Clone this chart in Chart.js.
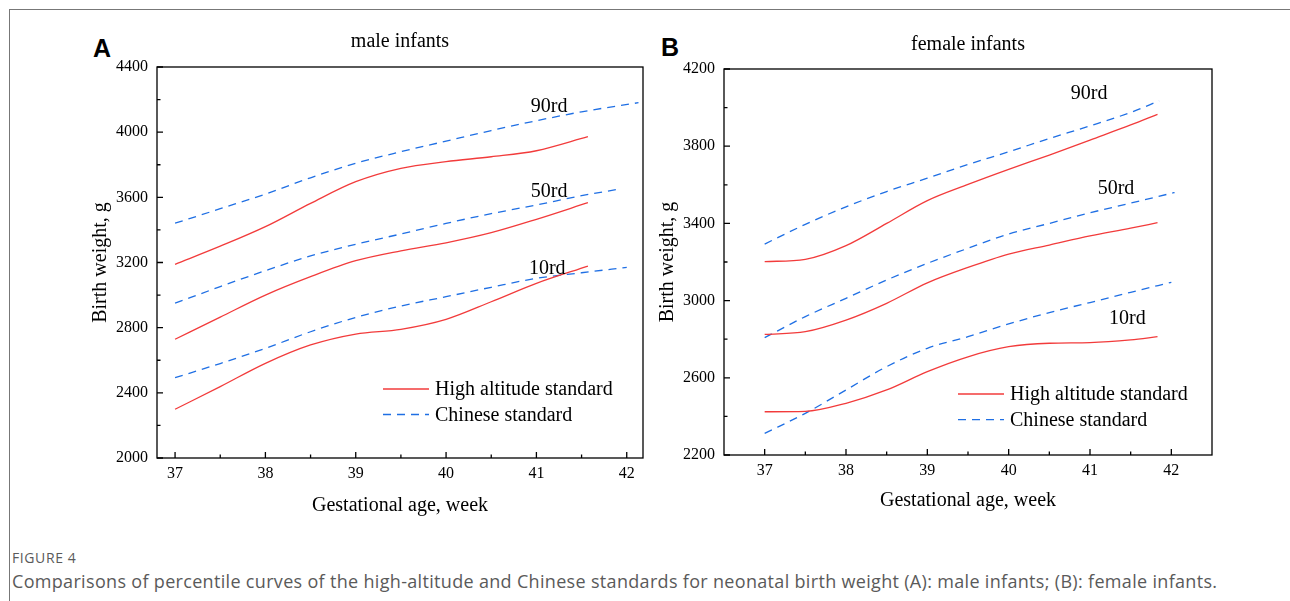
<!DOCTYPE html>
<html>
<head>
<meta charset="utf-8">
<title>Birth weight percentile curves</title>
<script src="https://cdn.jsdelivr.net/npm/chart.js@4.4.1/dist/chart.umd.min.js"></script>
<style>
  html, body { margin: 0; padding: 0; background: #fff; }
  body { width: 1290px; height: 601px; position: relative; overflow: hidden; }
  #border { position: absolute; left: 9px; top: 9px; right: 0; bottom: 0; border-top: 1px solid #777; border-left: 1px solid #777; }
  .panel { position: absolute; top: 20px; width: 580px; height: 510px; }
  .tag { position: absolute; font: bold 25px "Liberation Sans", Arial, sans-serif; line-height: 1; color: #000; }
  #figno { position: absolute; left: 12px; top: 548px; font: 14px "Open Sans", sans-serif; color: #5a5a5a; letter-spacing: 0.6px; }
  #caption { position: absolute; left: 12px; top: 569px; font: 18px "Open Sans", sans-serif; color: #5a5a5a; letter-spacing: 0.32px; white-space: nowrap; }
</style>
</head>
<body>
<div id="border"></div>
<div class="tag" style="left:93px;top:36px">A</div>
<div class="tag" style="left:661px;top:35px">B</div>
<div class="panel" style="left:80px"><canvas id="maleChart" width="580" height="510"></canvas></div>
<div class="panel" style="left:650px"><canvas id="femaleChart" width="580" height="510"></canvas></div>
<div id="figno">FIGURE 4</div>
<div id="caption">Comparisons of percentile curves of the high-altitude and Chinese standards for neonatal birth weight (A): male infants; (B): female infants.</div>

<script>
// ---- data (week -> grams) ----
const weekTicks = [37, 38, 39, 40, 41, 42];
const maleWeightTicks = [2000, 2400, 2800, 3200, 3600, 4000, 4400];
const femaleWeightTicks = [2200, 2600, 3000, 3400, 3800, 4200];

// male, high altitude standard
const maleHighWeeks = [37, 37.5, 38, 38.5, 39, 39.5, 40, 40.5, 41, 41.57];
const maleHigh90 = [3189, 3300, 3420, 3563, 3696, 3778, 3819, 3849, 3886, 3972];
const maleHigh50 = [2729, 2865, 3000, 3113, 3211, 3272, 3321, 3383, 3465, 3567];
const maleHigh10 = [2299, 2438, 2581, 2694, 2761, 2790, 2851, 2959, 3072, 3178];

// male, Chinese standard
const maleCn90Weeks = [37, 37.5, 38, 38.5, 39, 39.5, 40, 40.5, 41, 41.5, 42.13];
const maleCn90 = [3441, 3530, 3620, 3720, 3809, 3880, 3945, 4010, 4070, 4125, 4181];
const maleCn50Weeks = [37, 37.5, 38, 38.5, 39, 39.5, 40, 40.5, 41, 41.5, 41.9];
const maleCn50 = [2950, 3052, 3150, 3240, 3312, 3375, 3440, 3500, 3553, 3610, 3649];
const maleCn10Weeks = [37, 37.5, 38, 38.5, 39, 39.5, 40, 40.5, 41, 41.5, 42];
const maleCn10 = [2493, 2580, 2673, 2775, 2863, 2933, 2990, 3048, 3103, 3137, 3170];

// female, high altitude standard
const femaleHighWeeks = [37, 37.5, 38, 38.5, 39, 39.5, 40, 40.5, 41, 41.5, 41.83];
const femaleHigh90 = [3202, 3214, 3285, 3400, 3518, 3602, 3680, 3754, 3832, 3910, 3965];
const femaleHigh50 = [2825, 2839, 2899, 2986, 3092, 3172, 3241, 3288, 3335, 3375, 3404];
const femaleHigh10 = [2424, 2426, 2468, 2537, 2632, 2709, 2761, 2779, 2782, 2796, 2813];

// female, Chinese standard
const femaleCn90Weeks = [37, 37.5, 38, 38.5, 39, 39.5, 40, 40.5, 41, 41.5, 41.85];
const femaleCn90 = [3293, 3395, 3486, 3565, 3634, 3705, 3771, 3840, 3905, 3975, 4035];
const femaleCn50Weeks = [37, 37.5, 38, 38.5, 39, 39.5, 40, 40.5, 41, 41.5, 42.04];
const femaleCn50 = [2808, 2917, 3012, 3107, 3193, 3271, 3345, 3400, 3455, 3505, 3560];
const femaleCn10Weeks = [37, 37.5, 38, 38.5, 39, 39.5, 40, 40.5, 41, 41.5, 42];
const femaleCn10 = [2312, 2416, 2537, 2658, 2753, 2813, 2879, 2938, 2990, 3043, 3095];

// percentile labels (placed in data coordinates)
const percentileNames = ["90rd", "50rd", "10rd"];
const maleLabelWeeks = [41.14, 41.14, 41.12];
const maleLabelWeights = [4154, 3635, 3160];
const femaleLabelWeeks = [40.99, 41.32, 41.46];
const femaleLabelWeights = [4074, 3577, 2908];

const legendNames = ["High altitude standard", "Chinese standard"];

const RED = "#f23b3b";
const BLUE = "#1f6fe4";
const SERIF = '"Liberation Serif", "Times New Roman", serif';

Chart.defaults.font.family = SERIF;
Chart.defaults.color = "#000";

function curve(weeks, values, color, dashed) {
    return {
        data: weeks.map((w, i) => ({ x: w, y: values[i] })),
        borderColor: color,
        borderWidth: 1.3,
        borderDash: dashed ? [8, 6] : [],
        pointRadius: 0,
        cubicInterpolationMode: "monotone",
        fill: false
    };
}

// frame, inward ticks, percentile labels and legend
const framePlugin = {
    id: "frame",
    afterDraw(chart, args, opts) {
        const { ctx, chartArea: a, scales: { x, y } } = chart;
        ctx.save();
        ctx.strokeStyle = "#000";
        ctx.lineWidth = 1.3;
        ctx.setLineDash([]);
        ctx.strokeRect(a.left, a.top, a.right - a.left, a.bottom - a.top);

        ctx.beginPath();
        const mids = arr => arr.slice(1).map((v, i) => (v + arr[i]) / 2);
        opts.xTicks.forEach(v => {
            const px = x.getPixelForValue(v);
            ctx.moveTo(px, a.bottom); ctx.lineTo(px, a.bottom - 6);
        });
        mids(opts.xTicks).forEach(v => {
            const px = x.getPixelForValue(v);
            ctx.moveTo(px, a.bottom); ctx.lineTo(px, a.bottom - 3.5);
        });
        opts.yTicks.forEach(v => {
            const py = y.getPixelForValue(v);
            ctx.moveTo(a.left, py); ctx.lineTo(a.left + 6, py);
        });
        mids(opts.yTicks).forEach(v => {
            const py = y.getPixelForValue(v);
            ctx.moveTo(a.left, py); ctx.lineTo(a.left + 3.5, py);
        });
        ctx.stroke();

        ctx.fillStyle = "#000";
        ctx.font = "20px " + SERIF;
        ctx.textAlign = "center";
        ctx.textBaseline = "middle";
        percentileNames.forEach((t, i) => {
            ctx.fillText(t, x.getPixelForValue(opts.labelWeeks[i]), y.getPixelForValue(opts.labelWeights[i]));
        });

        // legend
        const lx = a.left + opts.legendX, ly = a.top + opts.legendY;
        [RED, BLUE].forEach((c, i) => {
            const yy = ly + i * opts.legendGap;
            ctx.strokeStyle = c;
            ctx.lineWidth = 1.3;
            ctx.setLineDash(i === 0 ? [] : [8, 6]);
            ctx.beginPath();
            ctx.moveTo(lx, yy); ctx.lineTo(lx + 46, yy);
            ctx.stroke();
            ctx.textAlign = "left";
            ctx.fillText(legendNames[i], lx + 52, yy + 1);
        });
        ctx.restore();
    }
};

function makeChart(id, cfg) {
    return new Chart(document.getElementById(id), {
        type: "line",
        data: { datasets: cfg.datasets },
        plugins: [framePlugin],
        options: {
            responsive: false,
            devicePixelRatio: 1,
            animation: false,
            layout: { padding: { left: 0, right: cfg.padRight, top: 0, bottom: 0 } },
            plugins: {
                legend: { display: false },
                tooltip: { enabled: false },
                title: {
                    display: true,
                    text: cfg.title,
                    fullSize: false,
                    color: "#000",
                    font: { family: SERIF, size: 20, weight: "normal" },
                    padding: cfg.titlePad
                },
                frame: {
                    xTicks: weekTicks,
                    yTicks: cfg.yTicks,
                    labelWeeks: cfg.labelWeeks,
                    labelWeights: cfg.labelWeights,
                    legendX: cfg.legendX,
                    legendY: cfg.legendY,
                    legendGap: cfg.legendGap
                }
            },
            scales: {
                x: {
                    type: "linear",
                    min: cfg.xMin,
                    max: cfg.xMax,
                    afterBuildTicks: s => { s.ticks = weekTicks.map(v => ({ value: v })); },
                    afterFit: s => { s.height = cfg.xAxisHeight; },
                    grid: { display: false, drawTicks: false },
                    border: { display: false },
                    ticks: {
                        color: "#000", padding: 6, maxRotation: 0,
                        font: { family: SERIF, size: 16 },
                        callback: v => String(v)
                    },
                    title: {
                        display: true, text: "Gestational age, week", color: "#000",
                        font: { family: SERIF, size: 20 }, padding: { top: 0, bottom: cfg.xTitleBottom }
                    }
                },
                y: {
                    type: "linear",
                    min: cfg.yTicks[0],
                    max: cfg.yTicks[cfg.yTicks.length - 1],
                    afterBuildTicks: s => { s.ticks = cfg.yTicks.map(v => ({ value: v })); },
                    afterFit: s => { s.width = cfg.yAxisWidth; },
                    grid: { display: false, drawTicks: false },
                    border: { display: false },
                    ticks: {
                        color: "#000", padding: 9,
                        font: { family: SERIF, size: 16 },
                        callback: v => String(v)
                    },
                    title: {
                        display: true, text: "Birth weight, g", color: "#000",
                        font: { family: SERIF, size: 20 }, padding: { top: cfg.yTitleTop, bottom: 0 }
                    }
                }
            }
        }
    });
}

makeChart("maleChart", {
    title: "male infants",
    datasets: [
        curve(maleHighWeeks, maleHigh90, RED, false),
        curve(maleHighWeeks, maleHigh50, RED, false),
        curve(maleHighWeeks, maleHigh10, RED, false),
        curve(maleCn90Weeks, maleCn90, BLUE, true),
        curve(maleCn50Weeks, maleCn50, BLUE, true),
        curve(maleCn10Weeks, maleCn10, BLUE, true)
    ],
    yTicks: maleWeightTicks,
    xMin: 36.8, xMax: 42.18,
    padRight: 17,
    titlePad: { top: 10, bottom: 13 },
    xAxisHeight: 72, xTitleBottom: 12,
    yAxisWidth: 77, yTitleTop: 9,
    labelWeeks: maleLabelWeeks, labelWeights: maleLabelWeights,
    legendX: 226, legendY: 322, legendGap: 25.5
});

makeChart("femaleChart", {
    title: "female infants",
    datasets: [
        curve(femaleHighWeeks, femaleHigh90, RED, false),
        curve(femaleHighWeeks, femaleHigh50, RED, false),
        curve(femaleHighWeeks, femaleHigh10, RED, false),
        curve(femaleCn90Weeks, femaleCn90, BLUE, true),
        curve(femaleCn50Weeks, femaleCn50, BLUE, true),
        curve(femaleCn10Weeks, femaleCn10, BLUE, true)
    ],
    yTicks: femaleWeightTicks,
    xMin: 36.5, xMax: 42.5,
    padRight: 18,
    titlePad: { top: 13, bottom: 12 },
    xAxisHeight: 75, xTitleBottom: 17,
    yAxisWidth: 74, yTitleTop: 6,
    labelWeeks: femaleLabelWeeks, labelWeights: femaleLabelWeights,
    legendX: 234, legendY: 325, legendGap: 25.7
});
</script>
</body>
</html>
